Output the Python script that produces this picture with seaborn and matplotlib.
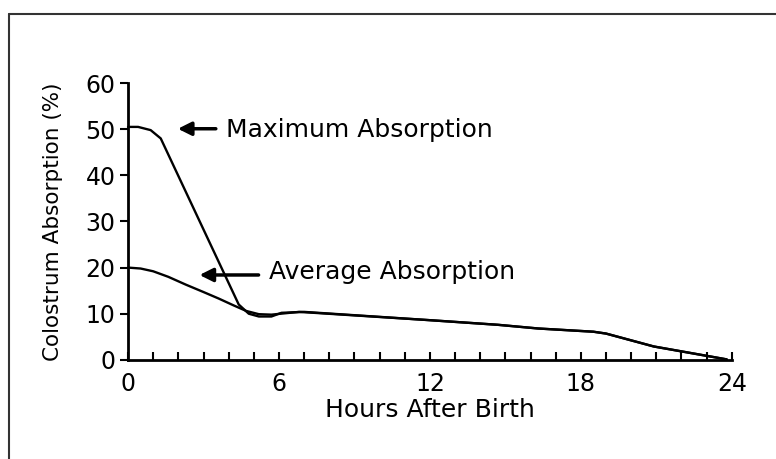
import numpy as np
import pandas as pd
import seaborn as sns
import matplotlib.pyplot as plt
from matplotlib.lines import Line2D

# values
max_hours = [0, 0.4, 0.9, 1.3, 4.4, 4.8, 5.2, 5.7, 6.1, 7, 12, 14.7, 16.3, 18.5, 19.0, 20.9, 23.8]
max_absorption = [50.5, 50.5, 49.8, 48.0, 12.0, 10.0, 9.4, 9.4, 10.2, 10.4, 8.6, 7.6, 6.8, 6.1, 5.7, 2.9, 0.1]

avg_hours = [0, 0.5, 1.0, 1.6, 2.3, 3.0, 3.6, 4.2, 4.7, 5.2, 5.7, 6.8, 12, 14.7, 16.3, 18.5, 19.0, 20.9, 23.8]
avg_absorption = [20.0, 19.8, 19.2, 18.0, 16.3, 14.7, 13.3, 11.8, 10.6, 9.9, 9.8, 10.4, 8.6, 7.6, 6.8, 6.1, 5.7, 2.9, 0.1]

x_ticks = [0, 6, 12, 18, 24]
y_ticks = [0, 10, 20, 30, 40, 50, 60]

df = pd.concat([
    pd.DataFrame({"hours": max_hours, "absorption": max_absorption, "series": "Maximum Absorption"}),
    pd.DataFrame({"hours": avg_hours, "absorption": avg_absorption, "series": "Average Absorption"}),
])

sns.set_style("ticks")
plt.rcParams['font.family'] = ['DejaVu Sans']
plt.rcParams['text.color'] = 'black'
plt.rcParams['axes.labelcolor'] = 'black'
plt.rcParams['xtick.color'] = 'black'
plt.rcParams['ytick.color'] = 'black'
plt.rcParams['axes.edgecolor'] = 'black'

fig = plt.figure(figsize=(7.76, 4.59), dpi=100)
ax = fig.add_axes([0.165, 0.216, 0.778, 0.603])

sns.lineplot(data=df, x="hours", y="absorption", hue="series",
             palette={"Maximum Absorption": "black", "Average Absorption": "black"},
             estimator=None, sort=False, legend=False, linewidth=1.7, ax=ax)
for line in ax.lines:
    line.set_clip_on(False)

ax.set_xlim(0, 24)
ax.set_ylim(0, 60)
ax.set_xticks(x_ticks)
ax.set_xticks(np.arange(0, 25, 1), minor=True)
ax.set_yticks(y_ticks)
ax.tick_params(axis="x", which="both", direction="in", length=6, width=1.5,
               labelsize=17, pad=9)
ax.tick_params(axis="y", direction="out", length=6, width=1.5, labelsize=17, pad=3)
sns.despine(ax=ax)
for side in ["left", "bottom"]:
    ax.spines[side].set_linewidth(2)

ax.set_xlabel("Hours After Birth", fontsize=18, labelpad=1)
ax.set_ylabel("Colostrum Absorption (%)", fontsize=15.5, labelpad=16)

arrow = dict(arrowstyle="-|>", color="black", lw=2.5, mutation_scale=20)
ax.annotate("", xy=(1.87, 50.1), xytext=(3.6, 50.1), arrowprops=arrow)
ax.text(3.9, 49.8, "Maximum Absorption", fontsize=18, va="center", ha="left")
ax.annotate("", xy=(2.73, 18.4), xytext=(5.3, 18.4), arrowprops=arrow)
ax.text(5.6, 19.0, "Average Absorption", fontsize=18, va="center", ha="left")

# frame lines of the scanned page
fig.add_artist(Line2D([0.011, 1.0], [0.97, 0.97], color="#333333", lw=1.5))
fig.add_artist(Line2D([0.011, 0.011], [0.0, 0.97], color="#333333", lw=1.5))

fig.savefig("out.png", dpi=100)
